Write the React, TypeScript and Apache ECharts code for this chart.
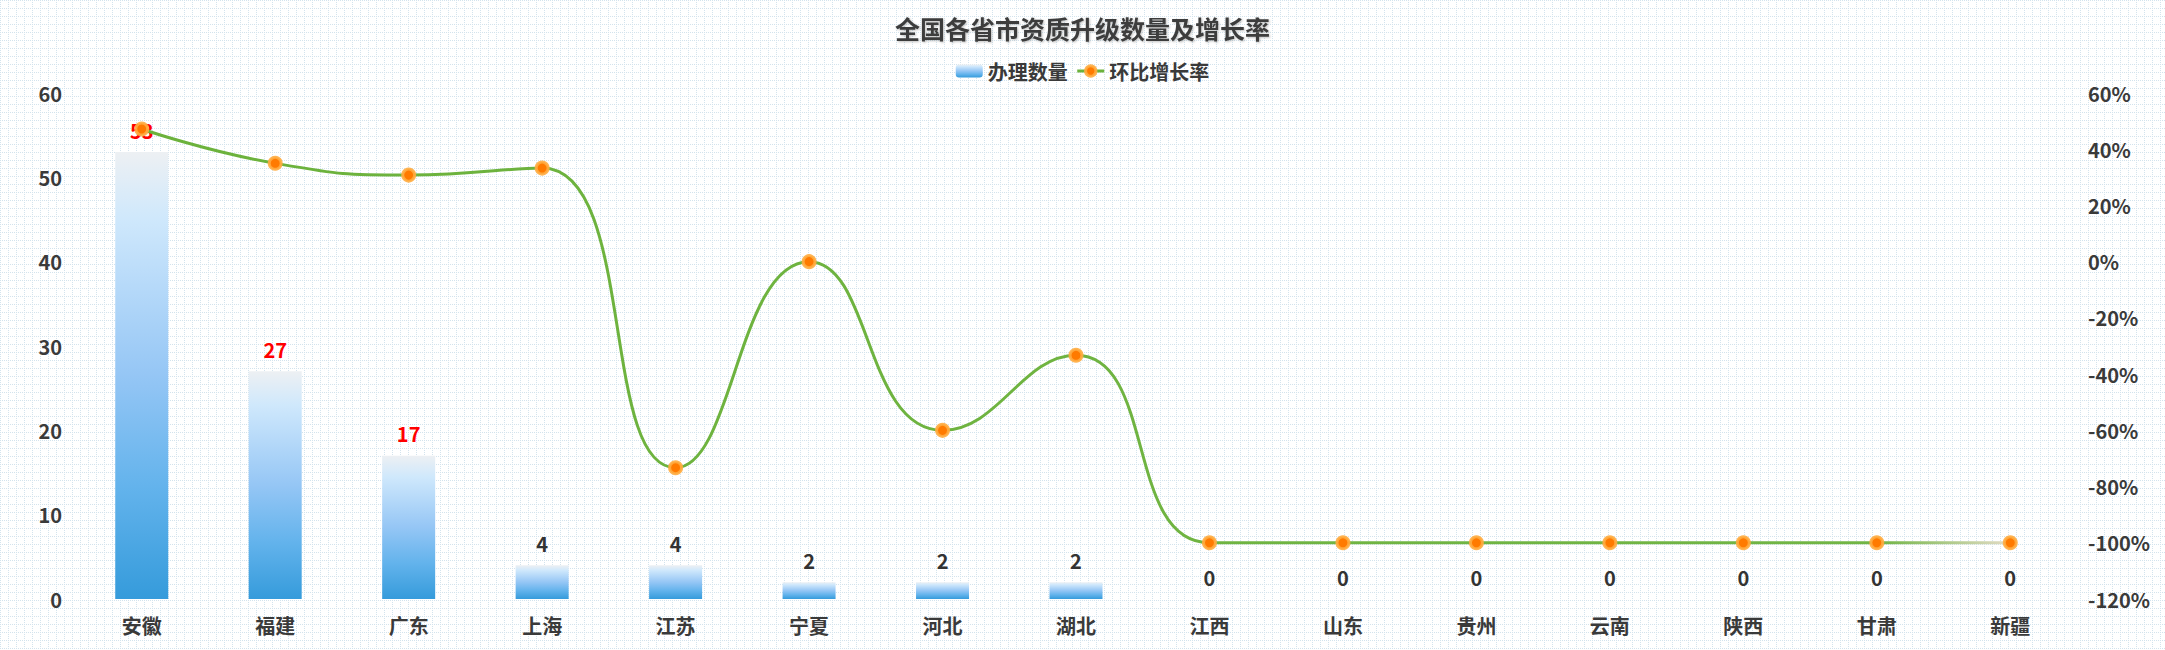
import React, { useEffect, useRef } from "react";
import * as echarts from "echarts";

const titleText = "全国各省市资质升级数量及增长率";
const seriesNames = ["办理数量", "环比增长率"];
const provinces = ["安徽", "福建", "广东", "上海", "江苏", "宁夏", "河北", "湖北", "江西", "山东", "贵州", "云南", "陕西", "甘肃", "新疆"];
const counts = [53, 27, 17, 4, 4, 2, 2, 2, 0, 0, 0, 0, 0, 0, 0];
const growthRates = [47.2, 35, 30.8, 33.3, -73.3, 0, -60, -33.3, -100, -100, -100, -100, -100, -100, -100];

const FONT = "'Noto Sans CJK SC', 'Noto Sans', sans-serif";
const TEXT = "#3a3a3a";

const bgSvg =
  "<svg xmlns='http://www.w3.org/2000/svg' width='8' height='8'><g fill='%23d3e3ed'>" +
  "<rect x='0' y='0' width='1' height='1'/><rect x='2' y='0' width='1' height='1'/><rect x='4' y='0' width='1' height='1'/><rect x='6' y='0' width='1' height='1'/>" +
  "<rect x='0' y='2' width='1' height='1'/><rect x='0' y='4' width='1' height='1'/><rect x='0' y='6' width='1' height='1'/>" +
  "</g></svg>";

export default function App() {
  const ref = useRef<HTMLDivElement>(null);
  useEffect(() => {
    document.body.style.margin = "0";
    const chart = echarts.init(ref.current!, undefined, { renderer: "svg" });
    const barGradient = new echarts.graphic.LinearGradient(0, 0, 0, 1, [
      { offset: 0, color: "#edf0f3" },
      { offset: 0.15, color: "#cfe8fc" },
      { offset: 0.5, color: "#95c6f5" },
      { offset: 0.75, color: "#63b3ec" },
      { offset: 1, color: "#359bdb" },
    ]);
    const lineGradient = new echarts.graphic.LinearGradient(0, 0, 1, 0, [
      { offset: 0, color: "#6cb23c" },
      { offset: 0.93, color: "#72b545" },
      { offset: 1, color: "#e4dcc6" },
    ]);
    chart.setOption({
      animation: false,
      textStyle: { fontFamily: FONT },
      title: {
        text: titleText,
        left: "center",
        top: 10,
        textStyle: {
          fontSize: 25,
          fontWeight: "bold",
          color: "#3c3c3c",
          fontFamily: FONT,
          textShadowColor: "rgba(0,0,0,0.25)",
          textShadowBlur: 2,
          textShadowOffsetX: 1,
          textShadowOffsetY: 1,
        },
      },
      legend: {
        top: 56,
        left: "center",
        itemWidth: 27,
        itemHeight: 13,
        itemGap: 8,
        data: [
          { name: seriesNames[0] },
          {
            name: seriesNames[1],
            lineStyle: { color: "#6cb23c", width: 3 },
            itemStyle: { color: "#ff7a00", borderColor: "rgba(255,172,64,0.9)", borderWidth: 3 },
          },
        ],
        textStyle: { fontSize: 20, fontWeight: "bold", color: TEXT, fontFamily: FONT },
      },
      grid: { left: 75, right: 88, top: 93, bottom: 51, containLabel: false, outerBoundsMode: "none" },
      xAxis: {
        type: "category",
        data: provinces,
        axisLine: { show: false },
        axisTick: { show: false },
        splitLine: { show: false },
        axisLabel: { margin: 16, fontSize: 20, fontWeight: "bold", color: TEXT, fontFamily: FONT },
      },
      yAxis: [
        {
          type: "value",
          min: 0,
          max: 60,
          interval: 10,
          axisLine: { show: false },
          axisTick: { show: false },
          splitLine: { show: false },
          axisLabel: { margin: 13, fontSize: 20, fontWeight: "bold", color: TEXT, fontFamily: FONT },
        },
        {
          type: "value",
          min: -120,
          max: 60,
          interval: 20,
          axisLine: { show: false },
          axisTick: { show: false },
          splitLine: { show: false },
          axisLabel: {
            margin: 11,
            fontSize: 20,
            fontWeight: "bold",
            color: TEXT,
            fontFamily: FONT,
            formatter: "{value}%",
          },
        },
      ],
      series: [
        {
          name: seriesNames[0],
          type: "bar",
          barWidth: 53,
          yAxisIndex: 0,
          itemStyle: { color: barGradient },
          data: counts.map((v) => ({
            value: v,
            label: { color: v >= 10 ? "#ff0000" : "#333333" },
          })),
          label: {
            show: true,
            position: "top",
            distance: 12,
            fontSize: 20,
            fontWeight: "bold",
            fontFamily: FONT,
          },
          z: 2,
        },
        {
          name: seriesNames[1],
          type: "line",
          yAxisIndex: 1,
          smooth: true,
          symbol: "circle",
          symbolSize: 12,
          lineStyle: { width: 3, color: lineGradient },
          itemStyle: { color: "#ff7a00", borderColor: "rgba(255,172,64,0.9)", borderWidth: 3 },
          data: growthRates,
          z: 3,
        },
      ],
    });
    return () => chart.dispose();
  }, []);
  return (
    <div
      ref={ref}
      style={{
        width: 2165,
        height: 650,
        backgroundColor: "#ffffff",
        backgroundImage: `url("data:image/svg+xml;utf8,${bgSvg}")`,
        backgroundRepeat: "repeat",
      }}
    />
  );
}
